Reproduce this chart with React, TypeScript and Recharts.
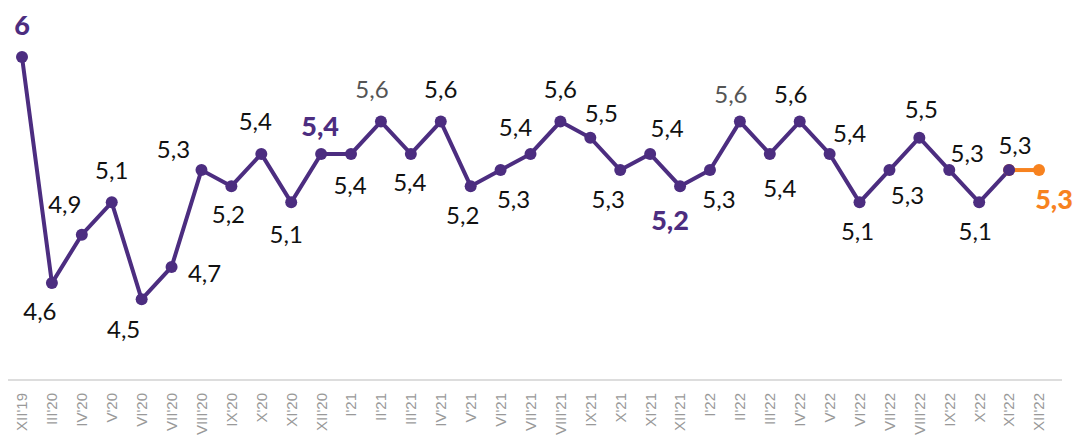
import React from 'react';
import { LineChart, Line, XAxis, YAxis, LabelList } from 'recharts';

// months on the x axis
const months = [
  "XII'19", "III'20", "IV'20", "V'20", "VI'20", "VII'20", "VIII'20", "IX'20", "X'20", "XI'20", "XII'20",
  "I'21", "II'21", "III'21", "IV'21", "V'21", "VI'21", "VII'21", "VIII'21", "IX'21", "X'21", "XI'21", "XII'21",
  "I'22", "II'22", "III'22", "IV'22", "V'22", "VI'22", "VII'22", "VIII'22", "IX'22", "X'22", "XI'22", "XII'22",
];

// actual values (last month is the estimate, drawn in orange)
const actual = [
  6, 4.6, 4.9, 5.1, 4.5, 4.7, 5.3, 5.2, 5.4, 5.1, 5.4,
  5.4, 5.6, 5.4, 5.6, 5.2, 5.3, 5.4, 5.6, 5.5, 5.3, 5.4, 5.2,
  5.3, 5.6, 5.4, 5.6, 5.4, 5.1, 5.3, 5.5, 5.3, 5.1, 5.3, null,
];

const estimate = [
  null, null, null, null, null, null, null, null, null, null, null,
  null, null, null, null, null, null, null, null, null, null, null, null,
  null, null, null, null, null, null, null, null, null, null, 5.3, 5.3,
];

const data = months.map((m, i) => ({ month: m, actual: actual[i], estimate: estimate[i] }));

const PURPLE = '#4c2d80';
const ORANGE = '#f7821f';

// where each value label sits relative to its point (dx, dy to label centre)
const labelOffsets: [number, number][] = [
  [0, -33], [-12, 27], [-17, -31], [0, -33], [-18, 29], [33, 6], [-28, -22], [-3, 27], [-6, -33], [-5, 31], [-1, -28],
  [-1, 31], [-9, -33], [-1, 28], [0, -33], [-8, 28], [13, 28], [-15, -27], [0, -33], [11, -25], [-12, 28], [17, -26], [-10, 33],
  [9, 28], [-9, -28], [10, 34], [-9, -28], [20, -21], [-2, 28], [18, 24], [2, -29], [18, -18], [-4, 28], [6, -26], [15, 28],
];
const boldIdx = [0, 10, 22];
const greyIdx = [12, 24];

const fmt = (v: number) => String(v).replace('.', ',');

const ValueLabel = (props: any) => {
  const { x, y, value, index } = props;
  if (value == null) return null;
  const [dx, dy] = labelOffsets[index] || [0, -30];
  const bold = boldIdx.includes(index);
  const fill = index === 34 ? ORANGE : bold ? PURPLE : greyIdx.includes(index) ? '#555' : '#111';
  return (
    <text
      x={x + dx}
      y={y + dy}
      textAnchor="middle"
      dominantBaseline="central"
      fontFamily="Lato, 'Open Sans', sans-serif"
      fontSize={bold || index === 34 ? 27 : 24}
      fontWeight={bold || index === 34 ? 900 : 400}
      fill={fill}
    >
      {fmt(value)}
    </text>
  );
};

const MonthTick = (props: any) => {
  const { x, y, payload } = props;
  return (
    <text
      transform={`translate(${x},${y + 13}) rotate(-90)`}
      textAnchor="end"
      dy="0.36em"
      fontFamily="'Liberation Sans', Arial, sans-serif"
      fontSize={15}
      fill="#999"
    >
      {payload.value}
    </text>
  );
};

export default function App() {
  return (
    <LineChart width={1066} height={428} data={data} margin={{ top: 49, right: 12, bottom: 0, left: 0 }}>
      <XAxis
        dataKey="month"
        interval={0}
        height={56}
        tickLine={false}
        tickSize={0}
        tickMargin={0}
        axisLine={{ stroke: '#dddddd', strokeWidth: 2 }}
        padding={{ left: 14, right: 23 }}
        tick={<MonthTick />}
      />
      <YAxis hide domain={[4, 6]} />
      <Line
        dataKey="estimate"
        stroke={ORANGE}
        strokeWidth={4}
        dot={{ r: 6, fill: ORANGE, stroke: 'none' }}
        isAnimationActive={false}
      >
        <LabelList dataKey="estimate" content={(p: any) => (p.index === 34 ? <ValueLabel {...p} /> : null)} />
      </Line>
      <Line
        dataKey="actual"
        stroke={PURPLE}
        strokeWidth={4}
        dot={{ r: 6, fill: PURPLE, stroke: 'none' }}
        isAnimationActive={false}
      >
        <LabelList dataKey="actual" content={<ValueLabel />} />
      </Line>
    </LineChart>
  );
}
